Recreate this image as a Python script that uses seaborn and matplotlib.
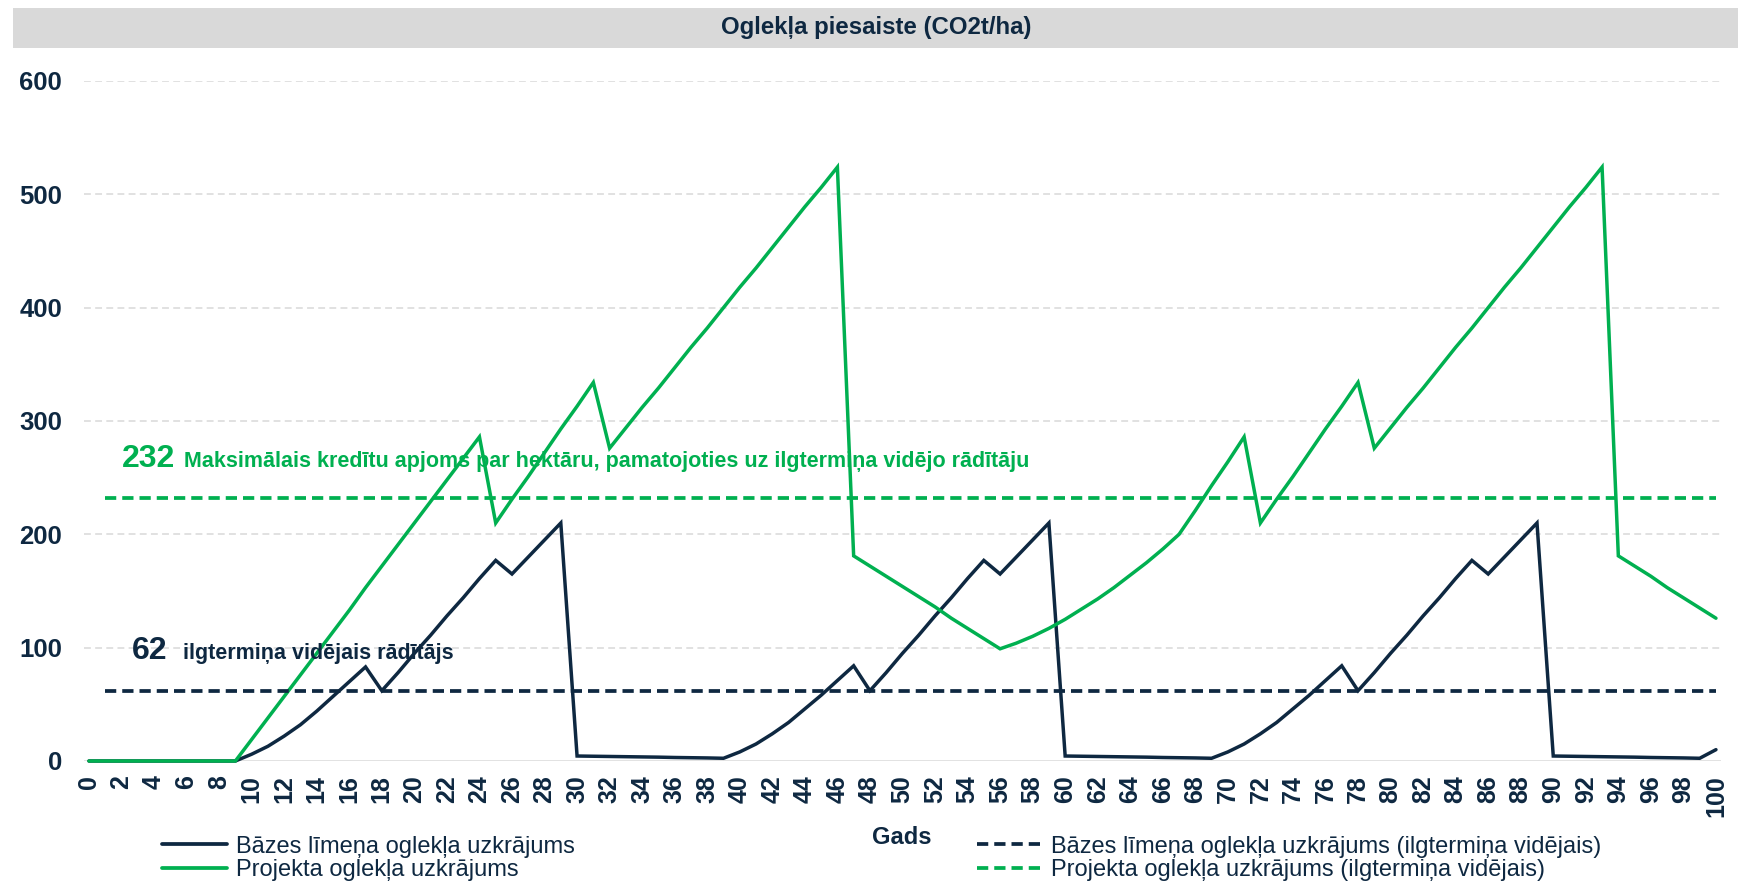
import matplotlib
matplotlib.use("Agg")
import matplotlib.pyplot as plt
import seaborn as sns
import pandas as pd
from matplotlib.patches import Rectangle
from matplotlib.lines import Line2D

# ---------------- data ----------------
years = list(range(0, 101))

base_stock = [
    0, 0, 0, 0, 0, 0, 0, 0, 0, 0,
    6, 13, 22, 32, 44, 57, 70, 83,
    62, 78, 95, 111, 128, 144, 161, 177,
    165, 180, 195, 210,
    4.4, 4.2, 4.0, 3.8, 3.6, 3.4, 3.1, 2.9, 2.7, 2.4,
    8, 15, 24, 34, 46, 58, 71, 84,
    62, 78, 95, 111, 128, 144, 161, 177,
    165, 180, 195, 210,
    4.4, 4.2, 4.0, 3.8, 3.6, 3.4, 3.1, 2.9, 2.7, 2.4,
    8, 15, 24, 34, 46, 58, 71, 84,
    62, 78, 95, 111, 128, 144, 161, 177,
    165, 180, 195, 210,
    4.4, 4.2, 4.0, 3.8, 3.6, 3.4, 3.1, 2.9, 2.7, 2.4,
    10,
]

project_stock = [
    0, 0, 0, 0, 0, 0, 0, 0, 0, 0,
    19, 38, 57, 76, 95, 114, 133, 153, 172, 191, 210, 229, 248, 267, 286,
    210, 231, 251, 272, 293, 313, 334,
    276, 294, 312, 329, 347, 365, 382, 400, 418, 435, 453, 471, 489, 506, 524,
    181, 172, 163, 154, 145, 136, 126, 117, 108, 99,
    104, 110, 117, 125, 134, 143, 153, 164, 175, 187, 200,
    221, 243, 264, 286,
    210, 231, 251, 272, 293, 313, 334,
    276, 294, 312, 329, 347, 365, 382, 400, 418, 435, 453, 471, 489, 506, 524,
    181, 172, 163, 153, 144, 135, 126,
]

base_avg = 62
project_avg = 232

title = "Oglekļa piesaiste (CO2t/ha)"
x_label = "Gads"
y_ticks = [0, 100, 200, 300, 400, 500, 600]
x_ticks = list(range(0, 101, 2))
label_base = "Bāzes līmeņa oglekļa uzkrājums"
label_project = "Projekta oglekļa uzkrājums"
label_base_avg = "Bāzes līmeņa oglekļa uzkrājums (ilgtermiņa vidējais)"
label_project_avg = "Projekta oglekļa uzkrājums (ilgtermiņa vidējais)"
annot_project = "Maksimālais kredītu apjoms par hektāru, pamatojoties uz ilgtermiņa vidējo rādītāju"
annot_base = "ilgtermiņa vidējais rādītājs"

# ---------------- style ----------------
NAVY = "#0E2841"
GREEN = "#00B050"
GRID = "#D9D9D9"

sns.set_theme(style="white")
plt.rcParams["font.family"] = ["Liberation Sans", "DejaVu Sans"]

W, H = 1747, 881
fig = plt.figure(figsize=(W / 100, H / 100), dpi=100)
fig.patch.set_facecolor("white")

ax_l, ax_r, ax_b, ax_t = 83.6, 1721, 761, 81
ax = fig.add_axes([ax_l / W, 1 - ax_b / H, (ax_r - ax_l) / W, (ax_b - ax_t) / H])

df = pd.DataFrame({"Gads": years, "base": base_stock, "project": project_stock})

# grid
for yv in y_ticks[1:]:
    ax.axhline(yv, color=GRID, lw=1.1, linestyle=(0, (4.5, 2.8)), zorder=0)
ax.axhline(0, color=GRID, lw=1.8, zorder=0)

sns.lineplot(data=df, x="Gads", y="base", ax=ax, color=NAVY, lw=2.5,
             solid_joinstyle="miter", clip_on=False, zorder=3)
sns.lineplot(data=df, x="Gads", y="project", ax=ax, color=GREEN, lw=2.5,
             solid_joinstyle="miter", clip_on=False, zorder=3)

dash = (0, (3.0, 1.6))
ax.hlines(base_avg, years[1], years[-1], colors=NAVY, lw=2.7, linestyles=[dash], zorder=4)
ax.hlines(project_avg, years[1], years[-1], colors=GREEN, lw=2.7, linestyles=[dash], zorder=4)

ax.set_xlim(-0.33, 100.31)
ax.set_ylim(0, 600)
for s in ax.spines.values():
    s.set_visible(False)

ax.set_yticks(y_ticks)
ax.set_yticklabels([str(v) for v in y_ticks], fontsize=18.5, fontweight="bold", color=NAVY)
ax.set_xticks(x_ticks)
ax.set_xticklabels([str(v) for v in x_ticks], fontsize=18, fontweight="bold",
                   color=NAVY, rotation=90)
ax.tick_params(axis="y", length=0, pad=15.5)
ax.tick_params(axis="x", length=0, pad=10)
ax.set_xlabel("")
ax.set_ylabel("")

# annotations
ax.text(2.01, 259, str(project_avg), color=GREEN, fontsize=23, fontweight="bold", va="baseline")
ax.text(5.82, 259, annot_project, color=GREEN, fontsize=15.5, fontweight="bold", va="baseline")
ax.text(2.64, 90, str(base_avg), color=NAVY, fontsize=23, fontweight="bold", va="baseline")
ax.text(5.78, 90, annot_base, color=NAVY, fontsize=15.5, fontweight="bold", va="baseline")

# title band
fig.patches.append(Rectangle((13.4 / W, 1 - 47.7 / H), (1738 - 13.4) / W, (47.7 - 8.5) / H,
                             transform=fig.transFigure, facecolor=GRID, edgecolor="none", zorder=0))
fig.text(876.5 / W, 1 - 34 / H, title, ha="center", va="baseline",
         fontsize=17.3, fontweight="bold", color=NAVY)

# x label
fig.text(902 / W, 1 - 844 / H, x_label, ha="center", va="baseline",
         fontsize=17, fontweight="bold", color=NAVY)

# legends
h_base = Line2D([], [], color=NAVY, lw=2.7)
h_proj = Line2D([], [], color=GREEN, lw=2.7)
h_base_avg = Line2D([], [], color=NAVY, lw=2.7, linestyle=dash)
h_proj_avg = Line2D([], [], color=GREEN, lw=2.7, linestyle=dash)

y_leg = 1 - 858.5 / H
leg1 = fig.legend([h_base, h_proj], [label_base, label_project], loc="center left",
                  bbox_to_anchor=(162 / W, y_leg), frameon=False, fontsize=17,
                  handlelength=2.75, handletextpad=0.4, borderpad=0, borderaxespad=0,
                  labelspacing=0.08, labelcolor=NAVY)
leg2 = fig.legend([h_base_avg, h_proj_avg], [label_base_avg, label_project_avg], loc="center left",
                  bbox_to_anchor=(977 / W, y_leg), frameon=False, fontsize=17,
                  handlelength=2.86, handletextpad=0.28, borderpad=0, borderaxespad=0,
                  labelspacing=0.08, labelcolor=NAVY)

fig.savefig("out.png", dpi=100, facecolor="white")
